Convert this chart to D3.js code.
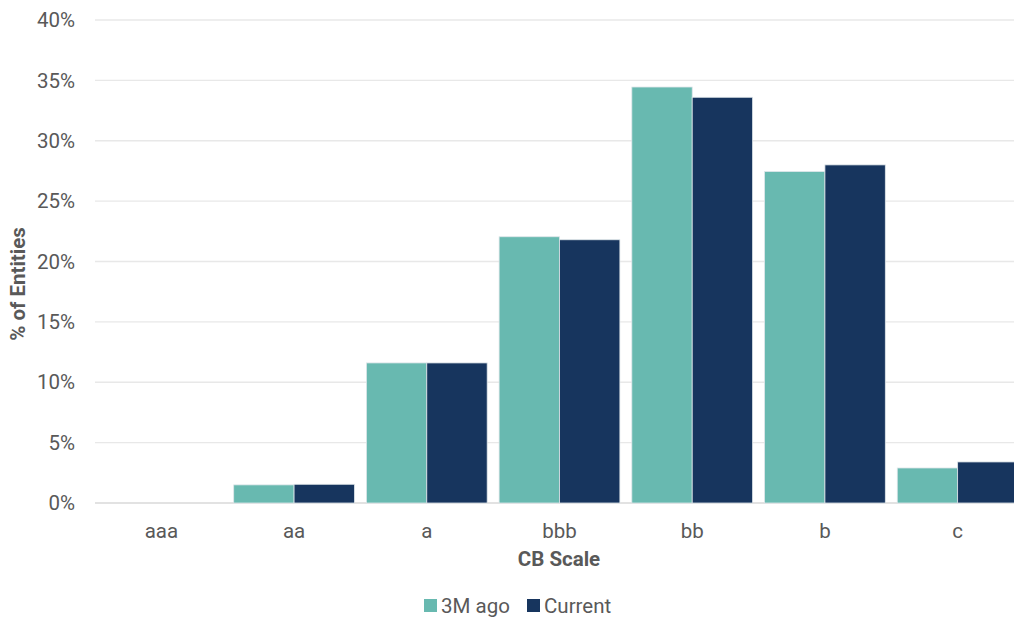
<!DOCTYPE html>
<html><head><meta charset="utf-8">
<script src="https://cdn.jsdelivr.net/npm/d3@7"></script>
<style>body{margin:0;background:#fff}svg{display:block;font-family:Roboto,"Noto Sans",sans-serif}</style>
</head><body><svg id="c" width="1014" height="618"></svg>
<script>
const categories = ["aaa","aa","a","bbb","bb","b","c"];
const seriesNames = ["3M ago","Current"];
const ago3M = [0, 1.5, 11.6, 22.05, 34.45, 27.45, 2.9];
const current = [0, 1.55, 11.6, 21.8, 33.6, 28.0, 3.4];
const yTicks = [0,5,10,15,20,25,30,35,40];
const colors = ["#68b9b0","#17355e"];

const svg = d3.select("#c");
const plotLeft = 95, plotRight = 1024, plotTop = 20, plotBottom = 503;
const x = d3.scaleBand().domain(categories).range([plotLeft, plotRight]).paddingInner(0.09).paddingOuter(0.045);
const xs = d3.scaleBand().domain(seriesNames).range([0, x.bandwidth()]);
const y = d3.scaleLinear().domain([0,40]).range([plotBottom, plotTop]);
const txt = "#595959";
const fs = 20.5;

svg.append("g").selectAll("line").data(yTicks).join("line")
  .attr("x1", plotLeft).attr("x2", 1014).attr("y1", d=>y(d)).attr("y2", d=>y(d))
  .attr("stroke", d=> d===0 ? "#d9d9d9" : "#e8e8e8").attr("stroke-width", 1.3);

svg.append("g").selectAll("text").data(yTicks).join("text")
  .attr("x", 75).attr("y", d=>y(d)).attr("dy","0.35em").attr("text-anchor","end")
  .attr("fill", txt).attr("font-size", fs).text(d=>d+"%");

const data = [ago3M, current];
data.forEach((vals, si) => {
  svg.append("g").selectAll("rect").data(vals).join("rect")
    .attr("x", (d,i)=>x(categories[i]) + xs(seriesNames[si]))
    .attr("width", xs.bandwidth())
    .attr("y", d=>y(d)).attr("height", d=>y(0)-y(d))
    .attr("fill", colors[si])
    .attr("stroke", d=> d>0 ? "#dfe6ea" : "none").attr("stroke-width", 0.8);
});

svg.append("g").selectAll("text").data(categories).join("text")
  .attr("x", d=>x(d)+x.bandwidth()/2).attr("y", 531).attr("dy","0.35em")
  .attr("text-anchor","middle").attr("fill", txt).attr("font-size", fs).text(d=>d);

svg.append("text").attr("x", 559).attr("y", 559).attr("dy","0.35em").attr("text-anchor","middle")
  .attr("fill", txt).attr("font-size", fs).attr("font-weight","bold").text("CB Scale");

svg.append("text").attr("transform","translate(18,284) rotate(-90)").attr("dy","0.35em").attr("text-anchor","middle")
  .attr("fill", txt).attr("font-size", fs).attr("font-weight","bold").text("% of Entities");

const leg = svg.append("g");
const legX = [424, 527];
seriesNames.forEach((n,i)=>{
  leg.append("rect").attr("x", legX[i]).attr("y", 599).attr("width", 13).attr("height", 13).attr("fill", colors[i]);
  leg.append("text").attr("x", legX[i]+17).attr("y", 605.5).attr("dy","0.35em").attr("fill", txt).attr("font-size", fs).text(n);
});
</script></body></html>
